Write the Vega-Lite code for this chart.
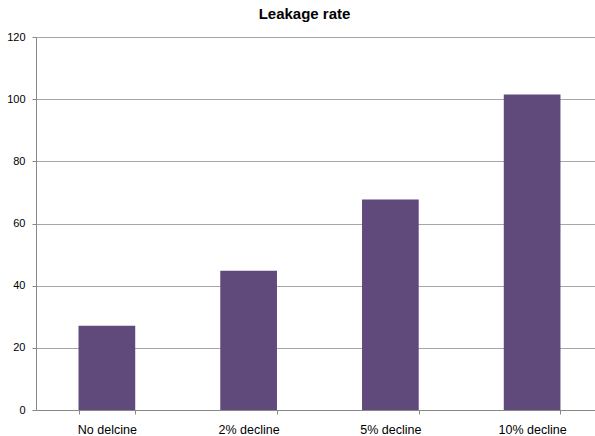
{
  "$schema": "https://vega.github.io/schema/vega-lite/v6.json",
  "autosize": "none",
  "width": 559,
  "height": 373,
  "padding": {"left": 36, "top": 37, "right": 0, "bottom": 26},
  "background": "white",
  "title": {
    "text": "Leakage rate",
    "font": "Liberation Sans",
    "fontSize": 15,
    "fontWeight": "bold",
    "color": "#000000",
    "anchor": "middle",
    "dx": -11,
    "offset": 9
  },
  "data": {
    "values": [
      {"scenario": "No delcine", "rate": 27.1},
      {"scenario": "2% decline", "rate": 44.8},
      {"scenario": "5% decline", "rate": 67.7},
      {"scenario": "10% decline", "rate": 101.5}
    ]
  },
  "mark": {"type": "bar", "color": "#604A7B"},
  "encoding": {
    "x": {
      "field": "scenario",
      "type": "nominal",
      "sort": null,
      "title": null,
      "scale": {"range": [0, 567], "paddingInner": 0.6, "paddingOuter": 0.3},
      "axis": {
        "labelAngle": 0,
        "labelFont": "Liberation Sans",
        "labelFontSize": 12.5,
        "labelColor": "#000000",
        "tickBand": "extent",
        "tickSize": 4,
        "tickColor": "#888888",
        "domainColor": "#888888",
        "labelPadding": 9,
        "grid": false
      }
    },
    "y": {
      "field": "rate",
      "type": "quantitative",
      "title": null,
      "scale": {"domain": [0, 120], "nice": false},
      "axis": {
        "values": [0, 20, 40, 60, 80, 100, 120],
        "labelFont": "Liberation Sans",
        "labelFontSize": 11,
        "labelColor": "#000000",
        "tickSize": 4,
        "tickColor": "#888888",
        "domainColor": "#888888",
        "labelPadding": 7,
        "grid": true,
        "gridColor": "#A6A6A6"
      }
    }
  },
  "config": {
    "view": {"stroke": null}
  }
}
